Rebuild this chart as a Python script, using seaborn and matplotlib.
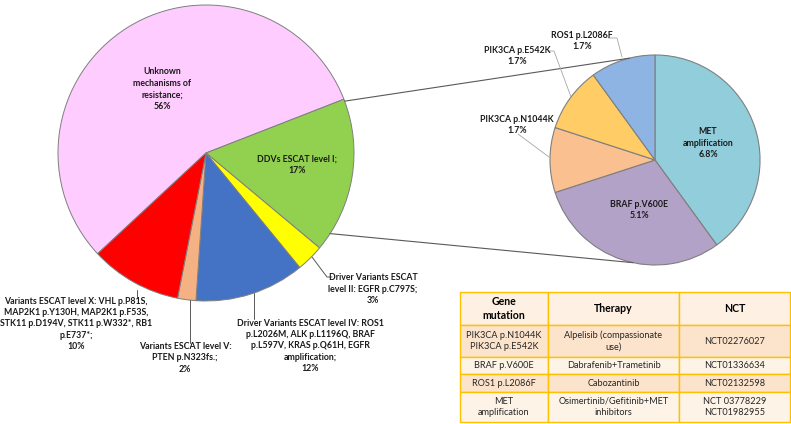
import numpy as np
import matplotlib.pyplot as plt
import seaborn as sns

# Main pie data
main_labels = ['Unknown\nmechanisms of\nresistance;\n56%', 'DDVs ESCAT level I;\n17%',
               'Driver Variants ESCAT\nlevel II: EGFR p.C797S;\n3%',
               'Driver Variants ESCAT level IV: ROS1\np.L2026M, ALK p.L1196Q, BRAF\np.L597V, KRAS p.Q61H, EGFR\namplification;\n12%',
               'Variants ESCAT level V:\nPTEN p.N323fs.;\n2%',
               'Variants ESCAT level X: VHL p.P81S,\nMAP2K1 p.Y130H, MAP2K1 p.F53S,\nSTK11 p.D194V, STK11 p.W332*, RB1\np.E737*;\n10%']
main_values = [56, 17, 3, 12, 2, 10]
main_colors = ['#FFCCFF', '#92D050', '#FFFF00', '#4472C4', '#F4B183', '#FF0000']

# Breakdown of DDVs ESCAT level I
sub_labels = ['MET\namplification\n6.8%', 'BRAF p.V600E\n5.1%', 'PIK3CA p.N1044K\n1.7%',
              'PIK3CA p.E542K\n1.7%', 'ROS1 p.L2086F\n1.7%']
sub_values = [6.8, 5.1, 1.7, 1.7, 1.7]
sub_colors = ['#92CDDC', '#B3A2C7', '#FAC090', '#FFCC66', '#8DB4E2']

# Table
table_cols = ['Gene\nmutation', 'Therapy', 'NCT']
table_rows = [['PIK3CA p.N1044K\nPIK3CA p.E542K', 'Alpelisib (compassionate\nuse)', 'NCT02276027'],
              ['BRAF p.V600E', 'Dabrafenib+Trametinib', 'NCT01336634'],
              ['ROS1 p.L2086F', 'Cabozantinib', 'NCT02132598'],
              ['MET\namplification', 'Osimertinib/Gefitinib+MET\ninhibitors', 'NCT 03778229\nNCT01982955']]

sns.set_theme(style='white')
plt.rcParams['font.family'] = ['Lato', 'DejaVu Sans']

W, H = 791, 424
fig = plt.figure(figsize=(W / 100, H / 100), dpi=100)
ax = fig.add_axes([0, 0, 1, 1])


def iy(y):
    # picture rows run downwards
    return H - y


c1, r1 = (206, iy(153)), 148
c2, r2 = (655, iy(160)), 105

wedges1, _ = ax.pie(main_values, colors=main_colors, startangle=222.9, counterclock=False,
                    center=c1, radius=r1, frame=True,
                    wedgeprops=dict(edgecolor='#7F7F7F', linewidth=0.7))
wedges2, _ = ax.pie(sub_values, colors=sub_colors, startangle=90, counterclock=False,
                    center=c2, radius=r2, frame=True, explode=[0.04, 0, 0, 0, 0],
                    wedgeprops=dict(edgecolor='#7F7F7F', linewidth=0.8))

# lines joining the two pies
for a1, a2 in [(20.5, 104), (-33, -102)]:
    p1 = (c1[0] + r1 * np.cos(np.radians(a1)), c1[1] + r1 * np.sin(np.radians(a1)))
    p2 = (c2[0] + r2 * np.cos(np.radians(a2)), c2[1] + r2 * np.sin(np.radians(a2)))
    ax.plot([p1[0], p2[0]], [p1[1], p2[1]], color='#595959', lw=0.8)

lab = dict(ha='center', va='center', fontsize=6.3, fontweight='bold', color='#1a1a1a',
           linespacing=1.35)
lead = dict(color='#595959', lw=0.7)

# main pie labels
ax.text(162, iy(89), main_labels[0], **lab)
ax.text(297, iy(165), main_labels[1], **lab)
ax.text(373, iy(289), main_labels[2], **lab)
ax.plot([312, 327, 332], [iy(257), iy(277), iy(277)], **lead)
ax.text(310, iy(346), main_labels[3], **lab)
ax.plot([254, 254], [iy(293), iy(319)], **lead)
ax.text(185, iy(358), main_labels[4], **lab)
ax.plot([190, 190], [iy(300), iy(343)], **lead)
ax.text(76, iy(324), main_labels[5], **lab)
ax.plot([137, 137], [iy(290), iy(297)], **lead)

# sub pie labels
ax.text(708, iy(143), sub_labels[0], **lab)
ax.text(639, iy(210), sub_labels[1], **lab)
ax.text(517, iy(125), sub_labels[2], **lab)
ax.plot([518, 549], [iy(134), iy(157)], color='#A6A6A6', lw=0.6)
ax.text(517, iy(56), sub_labels[3], **lab)
ax.plot([548, 554, 571], [iy(51), iy(51), iy(97)], color='#A6A6A6', lw=0.6)
ax.text(582, iy(41), sub_labels[4], **lab)
ax.plot([608, 617, 622], [iy(38), iy(38), iy(57)], color='#A6A6A6', lw=0.6)

# therapy table
x0, x1, y0, y1 = 460, 790, 292, 422
tbl = ax.table(cellText=table_rows, colLabels=table_cols, cellLoc='center',
               bbox=[x0 / W, iy(y1) / H, (x1 - x0) / W, (y1 - y0) / H])
col_w = [88, 131, 111]
row_h = [33, 32, 17, 18, 30]
fills = ['#FEF0E2', '#FCE3CC', '#FEF3E7', '#FCE3CC', '#FEF3E7']
tbl.auto_set_font_size(False)
for (r, c), cell in tbl.get_celld().items():
    cell.set_width(col_w[c])
    cell.set_height(row_h[r])
    cell.set_facecolor(fills[r])
    cell.set_edgecolor('#FFC000')
    cell.set_linewidth(1.0)
    t = cell.get_text()
    t.set_color('#262626')
    t.set_linespacing(1.3)
    if r == 0:
        t.set_fontsize(7.6)
        t.set_fontweight('bold')
        t.set_color('black')
    else:
        t.set_fontsize(6.6)

ax.set_xlim(0, W)
ax.set_ylim(0, H)
ax.set_aspect('equal')
ax.axis('off')
fig.savefig('out.png', dpi=100, facecolor='white')
